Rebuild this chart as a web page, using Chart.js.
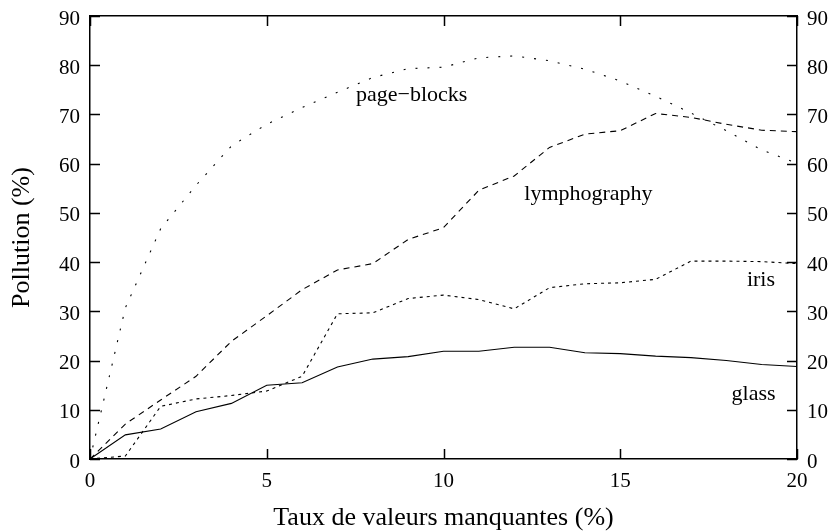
<!DOCTYPE html>
<html>
<head>
<meta charset="utf-8">
<script src="https://cdn.jsdelivr.net/npm/chart.js@4"></script>
<style>
  html, body { margin: 0; padding: 0; background: #fff; }
  #wrap { width: 838px; height: 532px; }
</style>
</head>
<body>
<div id="wrap"><canvas id="chart"></canvas></div>
<script>
// Taux de valeurs manquantes (%)
const rates = [0, 1, 2, 3, 4, 5, 6, 7, 8, 9, 10, 11, 12, 13, 14, 15, 16, 17, 18, 19, 20];

// Pollution (%) per dataset
const glass = [0, 4.9, 6.1, 9.6, 11.3, 15.0, 15.5, 18.7, 20.3, 20.8, 21.9, 21.9, 22.7, 22.7, 21.6, 21.4, 20.9, 20.6, 20.0, 19.2, 18.8];
const lymphography = [0, 7.1, 12.0, 16.8, 23.9, 29.1, 34.4, 38.4, 39.7, 44.6, 47.0, 54.6, 57.5, 63.3, 66.0, 66.7, 70.2, 69.4, 68.0, 66.8, 66.5];
const iris = [0, 0.6, 10.7, 12.2, 12.9, 13.8, 16.8, 29.5, 29.7, 32.6, 33.3, 32.4, 30.5, 34.8, 35.6, 35.8, 36.5, 40.2, 40.2, 40.1, 39.7];
const pageBlocks = [0, 30.7, 46.8, 55.6, 63.6, 68.0, 71.4, 74.5, 77.5, 79.3, 79.6, 81.5, 81.9, 80.9, 79.2, 76.8, 73.7, 70.3, 66.7, 62.8, 60.1];

// curve labels: [text, x, y] in data units
const curveLabels = [
  ["page\u2212blocks", 9.1, 74.0],
  ["lymphography", 14.1, 53.8],
  ["iris", 18.98, 36.4],
  ["glass", 18.77, 13.2],
];

const FONT = "'Liberation Serif', 'DejaVu Serif', serif";

function pts(ys) {
  return rates.map((x, i) => ({ x: x, y: ys[i] }));
}

// inward tick marks on all four sides
const innerTicks = {
  id: "innerTicks",
  afterDraw(chart) {
    const ctx = chart.ctx;
    const a = chart.chartArea;
    ctx.save();
    ctx.strokeStyle = "#000";
    ctx.lineWidth = 1.5;
    const len = 10;
    const xs = chart.scales.x;
    xs.ticks.forEach((t) => {
      const px = Math.round(xs.getPixelForValue(t.value)) + 0.5;
      ctx.beginPath();
      ctx.moveTo(px, a.bottom); ctx.lineTo(px, a.bottom - len);
      ctx.moveTo(px, a.top); ctx.lineTo(px, a.top + len);
      ctx.stroke();
    });
    const ys = chart.scales.y;
    ys.ticks.forEach((t) => {
      const py = Math.round(ys.getPixelForValue(t.value)) + 0.5;
      ctx.beginPath();
      ctx.moveTo(a.left, py); ctx.lineTo(a.left + len, py);
      ctx.moveTo(a.right, py); ctx.lineTo(a.right - len, py);
      ctx.stroke();
    });
    ctx.restore();
  },
};

const textLabels = {
  id: "textLabels",
  afterDatasetsDraw(chart) {
    const ctx = chart.ctx;
    ctx.save();
    ctx.fillStyle = "#000";
    ctx.font = "22px " + FONT;
    ctx.textAlign = "center";
    ctx.textBaseline = "middle";
    curveLabels.forEach(([txt, x, y]) => {
      ctx.fillText(txt, chart.scales.x.getPixelForValue(x), chart.scales.y.getPixelForValue(y));
    });
    ctx.restore();
  },
};

const lineStyle = { borderColor: "#000", borderWidth: 1.1, pointRadius: 0, tension: 0, fill: false };

const axisBorder = { display: true, color: "#000", width: 1.5 };
const noGrid = { display: false, drawTicks: false };
const tickFont = { family: FONT, size: 21 };

// fixed box sizes so the plot frame sits where it does in the figure
function fixBox(w, h) {
  return (s) => {
    if (w != null) s.width = w;
    if (h != null) s.height = h;
    s.paddingTop = 0; s.paddingBottom = 0; s.paddingLeft = 0; s.paddingRight = 0;
  };
}

new Chart(document.getElementById("chart"), {
  type: "line",
  data: {
    datasets: [
      { label: "glass", data: pts(glass), ...lineStyle },
      { label: "lymphography", data: pts(lymphography), ...lineStyle, borderDash: [6, 5] },
      { label: "iris", data: pts(iris), ...lineStyle, borderDash: [3, 4] },
      { label: "page-blocks", data: pts(pageBlocks), ...lineStyle, borderDash: [2, 10] },
    ],
  },
  options: {
    responsive: true,
    maintainAspectRatio: false,
    animation: false,
    layout: { padding: 0 },
    plugins: { legend: { display: false }, tooltip: { enabled: false } },
    scales: {
      x: {
        type: "linear", position: "bottom", min: 0, max: 20,
        grid: noGrid, border: axisBorder,
        ticks: { stepSize: 5, padding: 10, color: "#000", font: tickFont, maxRotation: 0 },
        title: { display: true, text: "Taux de valeurs manquantes (%)", color: "#000",
                 font: { family: FONT, size: 26 }, padding: { top: 0, bottom: -2 } },
        afterFit: fixBox(null, 73),
      },
      x2: {
        type: "linear", position: "top", min: 0, max: 20,
        grid: noGrid, border: axisBorder,
        ticks: { display: false },
        afterFit: fixBox(null, 16),
      },
      y: {
        type: "linear", position: "left", min: 0, max: 90,
        grid: noGrid, border: axisBorder,
        ticks: { stepSize: 10, padding: 10, labelOffset: 3, color: "#000", font: tickFont },
        title: { display: true, text: "Pollution (%)", color: "#000",
                 font: { family: FONT, size: 26 }, padding: { top: 7, bottom: 0 } },
        afterFit: fixBox(90, null),
      },
      y2: {
        type: "linear", position: "right", min: 0, max: 90,
        grid: noGrid, border: axisBorder,
        ticks: { stepSize: 10, padding: 10, labelOffset: 3, color: "#000", font: tickFont },
        afterFit: fixBox(41, null),
      },
    },
  },
  plugins: [innerTicks, textLabels],
});
</script>
</body>
</html>
